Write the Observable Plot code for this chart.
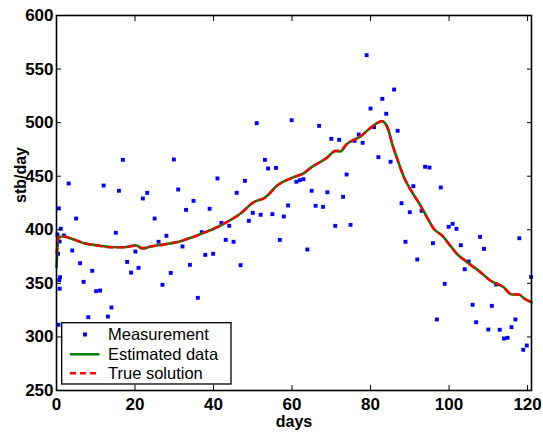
<!DOCTYPE html>
<html><head><meta charset="utf-8">
<script src="https://cdn.jsdelivr.net/npm/d3@7"></script>
<script src="https://cdn.jsdelivr.net/npm/@observablehq/plot@0.6"></script>
<style>
body{margin:0;background:#fff}
svg text{font-family:"Liberation Sans",Arial,sans-serif}
</style>
</head><body><div id="chart"></div>
<script>
const measDays = [0.5,0.4,0.25,1.1,0.8,0.9,0.7,0.8,1.9,5.0,4.0,6.0,6.9,9.1,8.1,10.1,11.1,14.0,13.1,15.1,18.0,19.0,20.1,20.9,25.0,26.0,28.0,27.0,29.1,32.1,34.0,36.0,37.0,37.9,39.9,42.0,43.1,44.0,45.1,46.9,49.0,50.0,52.0,55.0,56.9,0.6,3.1,12.0,15.9,16.9,22.0,23.1,29.9,31.0,33.0,34.9,39.0,41.0,45.9,48.0,51.0,53.1,53.9,55.9,57.9,59.9,59.0,61.1,62.0,62.9,65.0,66.0,66.9,67.9,69.0,70.0,72.0,73.0,73.9,75.9,77.0,78.0,79.0,80.0,80.9,82.0,83.0,84.0,85.1,86.0,86.9,87.9,90.0,90.9,93.0,93.9,95.0,97.9,88.9,91.9,95.9,96.9,98.9,99.9,100.9,101.9,103.0,104.0,105.0,106.0,106.9,107.9,108.9,110.0,110.9,112.0,112.9,114.0,114.9,115.9,116.9,117.9,118.9,119.8,120.9,63.9,71.0,74.9];
const measValues = [311.3,377.6,395.6,401,389,355.7,353,345,394.7,410.5,380.7,368.8,351.4,361.7,318.4,342.7,343.3,327.5,319,397.2,370,360,379.7,364.5,410.5,388.8,394.4,348.6,359.8,384.4,367.3,336.5,397.8,376.6,377.6,406.5,390.6,403.7,388.8,367,408.4,415.8,414,414.6,390.6,420,443.2,441.3,436.4,465.3,429.2,434.5,465.6,437.6,418.6,427,419.6,447.9,434.5,445.7,499.5,465.3,457.2,457.8,412.4,502.3,422.7,444.8,446.3,447.2,436.4,422.4,497,421.4,435,484.9,484,430.8,451.6,483,488.9,481.2,563,513.2,495.8,467.8,522.2,508.3,463.5,530.9,492.4,424.8,416.4,440.7,417.7,458.8,458.1,439.5,388.8,372.3,387.5,316.3,349.6,402.8,405.6,400.9,385.6,363.2,370.4,330,313.7,393.4,382.2,306.9,329,349,306.7,298.5,299.2,309.1,316.3,392.1,288,292,356.1,381.6,403.7,404.6];

const curveDays = [0,0.5,1.5,4,7,10.4,13.8,17.2,20.2,21.9,24,27.4,31.6,34.2,37.5,40.1,42.6,46.8,50.2,53.2,56.2,60.4,63,64.7,68.9,71,72.3,74,77.4,80,81.6,82.9,83.8,84.6,85.5,86.8,88.5,90.6,92.7,94.6,96.1,98.2,100.3,102,104.6,108,110.5,113.9,116,117.7,119.4,121];
const estimatedValues = [365,392,394,391.5,387.5,385.5,384,383.7,385.6,382.5,384.4,386.3,389.4,392.5,397.2,401,405.6,414.9,425.7,430.4,441.3,449.1,452.8,457.8,467.2,473.5,473.1,480.2,487,495.2,499.5,501.4,498.9,492.7,480.2,466.2,449.1,435,422.7,410.2,401,394.7,385.3,377.6,369.8,360.4,352.7,346.4,339.6,339.6,335.2,332.4];
const trueValues = [378,393,394,391.5,387.5,385.3,383.7,383.7,385,383,384.4,386.3,389.4,392.5,397.2,401,405.6,414.9,425.7,430,441,449,452.8,457.8,467.2,473.5,474,480.2,487,495.2,499.5,501.4,498.9,492.7,480.2,466.2,449.1,435,422.7,410.2,401,394.7,385.3,377.6,369.8,360.4,352.7,346.4,339.6,339.6,335.2,332.4];

const xTicks = [0,20,40,60,80,100,120];
const yTicks = [250,300,350,400,450,500,550,600];
const legendLabels = ["Measurement","Estimated data","True solution"];
const xLabel = "days";
const yLabel = "stb/day";

const meas = measDays.map((d,i)=>({x:d,y:measValues[i]}));
const est = curveDays.map((d,i)=>({x:d,y:estimatedValues[i]}));
const tru = curveDays.map((d,i)=>({x:d,y:trueValues[i]}));

const chart = Plot.plot({
  width:543, height:434,
  marginLeft:56, marginRight:12, marginTop:15, marginBottom:44,
  style:{background:"#fff", color:"#000", fontFamily:"Liberation Sans, Arial, sans-serif"},
  x:{domain:[0,121]},
  y:{domain:[250,600]},
  marks:[
    Plot.dot(meas,{x:"x",y:"y",symbol:"square",r:2.2,fill:"#0000ff",stroke:null}),
    Plot.line(est,{x:"x",y:"y",stroke:"#008000",strokeWidth:2.6,curve:"monotone-x"}),
    Plot.line(tru,{x:"x",y:"y",stroke:"#ff0000",strokeWidth:2.4,strokeDasharray:"6,5",curve:"monotone-x"}),
    Plot.axisX(xTicks,{anchor:"bottom",tickSize:-5,tickPadding:12,label:null,fontSize:17,fontWeight:"bold",stroke:"#000"}),
    Plot.axisX(xTicks,{anchor:"top",tickSize:-5,label:null,tickFormat:()=>"",stroke:"#000"}),
    Plot.axisY(yTicks,{anchor:"left",tickSize:-5,tickPadding:8,label:null,fontSize:17,fontWeight:"bold",stroke:"#000"}),
    Plot.axisY(yTicks,{anchor:"right",tickSize:-5,label:null,tickFormat:()=>"",stroke:"#000"}),
    Plot.frame({stroke:"#000",strokeWidth:1.6}),
    Plot.text([xLabel],{frameAnchor:"bottom",dy:31,text:d=>d,fontSize:16,fontWeight:"bold",lineAnchor:"middle"}),
    Plot.text([yLabel],{frameAnchor:"left",dx:-36,text:d=>d,fontSize:16,fontWeight:"bold",rotate:-90,lineAnchor:"middle"})
  ]
});
document.getElementById("chart").appendChild(chart);

// legend inside plot area
const svg = d3.select(chart);
const g = svg.append("g").attr("font-family","Liberation Sans, Arial, sans-serif").attr("text-anchor","start");
g.append("rect").attr("x",61.7).attr("y",322.7).attr("width",169.3).attr("height",61.3)
  .attr("fill","#fff").attr("stroke","#000").attr("stroke-width",1.3);
const rowsY = [334.5,354.3,373.3];
g.append("rect").attr("x",83).attr("y",rowsY[0]-2).attr("width",4).attr("height",4).attr("fill","#0000ff");
g.append("line").attr("x1",70).attr("x2",99.5).attr("y1",rowsY[1]).attr("y2",rowsY[1]).attr("stroke","#008000").attr("stroke-width",2.5);
g.append("line").attr("x1",70).attr("x2",99.5).attr("y1",rowsY[2]).attr("y2",rowsY[2]).attr("stroke","#ff0000").attr("stroke-width",2.5).attr("stroke-dasharray","6,4");
legendLabels.forEach((t,i)=>{
  g.append("text").attr("x",108).attr("y",rowsY[i]).attr("dy","0.35em").attr("font-size",16.5).attr("fill","#000").attr("text-anchor","start").text(t);
});
</script>
</body></html>
